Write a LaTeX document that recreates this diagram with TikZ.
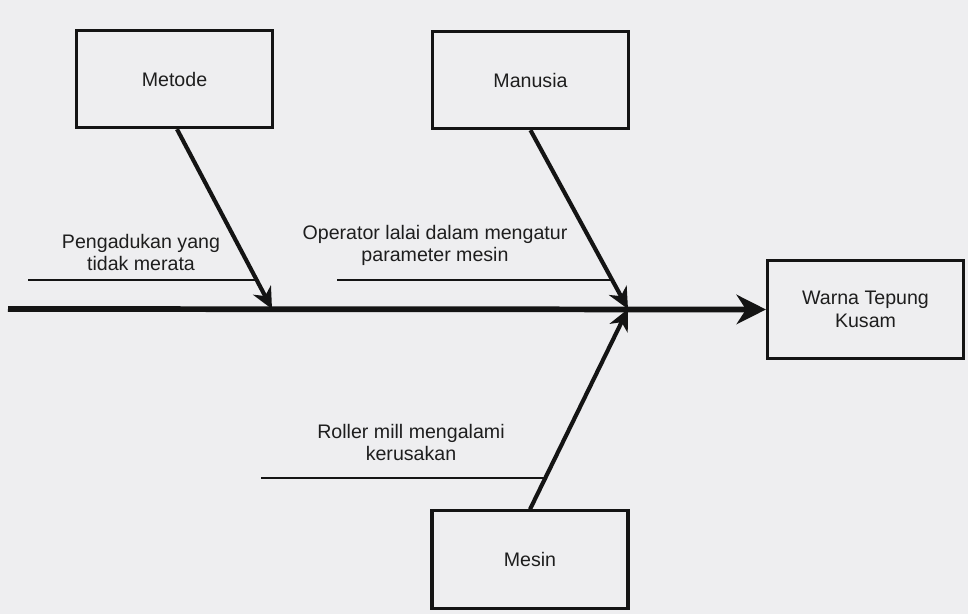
\documentclass[tikz,border=0pt]{standalone}
\usepackage{fontspec}
\setmainfont{Liberation Sans}
\usetikzlibrary{arrows.meta}
\definecolor{bg}{HTML}{EEEEF0}
\definecolor{ink}{HTML}{141414}
\definecolor{txt}{HTML}{1E1E1E}
\tikzset{
  box/.style={draw=ink, line width=2.3pt, fill=bg, minimum width=147pt, minimum height=73pt,
    inner sep=0pt, align=center, text=txt, font=\fontsize{14.7}{17}\selectfont},
  lbl/.style={align=center, text=txt, inner sep=0pt, font=\fontsize{14.7}{16.5}\selectfont},
  spine/.style={draw=ink, line width=4.3pt, -{Stealth[length=22pt, width=22pt, inset=7pt]}},
  bone/.style={draw=ink, line width=3.1pt, -{Stealth[length=16pt, width=15pt, inset=5pt]}},
  sub/.style={draw=ink, line width=2pt}
}
\begin{document}
\begin{tikzpicture}[x=0.75pt, y=-0.75pt]
  \fill[bg] (0,0) rectangle (968,614);
  \useasboundingbox (0,0) rectangle (968,614);

  \node[box] (metode) at (174.5,79) {Metode};
  \node[box] (manusia) at (530.5,80) {Manusia};
  \node[box] (mesin) at (530,559.5) {Mesin};
  \node[box] (effect) at (865.5,309.5) {Warna Tepung\\Kusam};

  \coordinate (tail) at (8,309);
  \coordinate (j1) at (272,309);
  \coordinate (j2) at (628,309);

  \coordinate (s1a) at (28,280);
  \coordinate (s1b) at (257,280);
  \coordinate (s2a) at (337,280);
  \coordinate (s2b) at (613,280);
  \coordinate (s3a) at (261,478);
  \coordinate (s3b) at (545,478);

  \draw[spine] (tail) -- (effect.west);
  \draw[bone] (metode.south -| 177,0) -- (j1);
  \draw[bone] (manusia.south) -- (j2);
  \draw[bone] (mesin.north) -- (j2);

  \draw[sub] (s1a) -- (s1b);
  \draw[sub] (s2a) -- (s2b);
  \draw[sub] (s3a) -- (s3b);

  \node[lbl] (t1) at (141,252) {Pengadukan yang\\tidak merata};
  \node[lbl] (t2) at (435,245) {Operator lalai dalam mengatur\\parameter mesin};
  \node[lbl] (t3) at (411,442) {Roller mill mengalami\\kerusakan};
\end{tikzpicture}
\end{document}
